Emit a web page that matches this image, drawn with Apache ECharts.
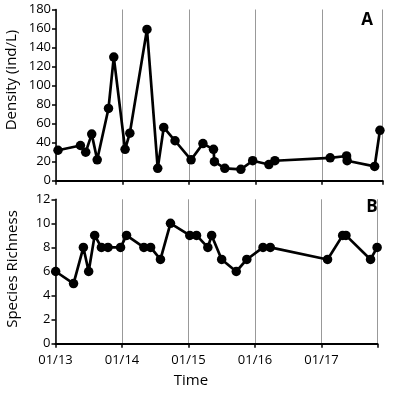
<!DOCTYPE html>
<html><head><meta charset="utf-8">
<script src="https://cdn.jsdelivr.net/npm/echarts@6/dist/echarts.min.js"></script>
<style>html,body{margin:0;padding:0;background:#fff}#c{width:394px;height:396px}</style>
</head><body><div id="c"></div>
<script>
// Panel A: density (ind/L)
var densityDates = ['2013-01-12','2013-05-15','2013-06-13','2013-07-16','2013-08-15','2013-10-16','2013-11-14',
  '2014-01-15','2014-02-10','2014-05-15','2014-07-13','2014-08-15','2014-10-16',
  '2015-01-12','2015-03-18','2015-05-15','2015-05-20','2015-07-16','2015-10-12','2015-12-16',
  '2016-03-14','2016-04-16','2017-02-14','2017-05-15','2017-05-18','2017-10-16','2017-11-14'];
var densityValues = [32,37,30,49,22,76,130,33,50,159,13,56,42,22,39,33,20,13,12,21,17,21,24,26,21,15,53];
// Panel B: species richness
var richnessDates = ['2013-01-02','2013-04-10','2013-06-03','2013-07-02','2013-08-04','2013-09-10','2013-10-16',
  '2013-12-24','2014-01-26','2014-05-01','2014-06-07','2014-07-31','2014-09-24',
  '2015-01-08','2015-02-14','2015-04-17','2015-05-08','2015-07-02','2015-09-20','2015-11-17',
  '2016-02-14','2016-03-25','2017-02-03','2017-04-27','2017-05-15','2017-09-27','2017-11-02'];
var richnessValues = [6,5,8,6,9,8,8,8,9,8,8,7,10,9,9,8,9,7,6,7,8,8,7,9,9,7,8];
var yearTicks = [2013,2014,2015,2016,2017];

function fy(s){
  var d = new Date(s + 'T00:00:00Z');
  var y = d.getUTCFullYear();
  var start = Date.UTC(y,0,1), end = Date.UTC(y+1,0,1);
  return y + (d.getTime()-start)/(end-start);
}
function pairs(dates, vals){ return dates.map(function(d,i){return [fy(d), vals[i]];}); }

var FONT = 'Open Sans';
var chart = echarts.init(document.getElementById('c'), null, {renderer:'canvas'});
function xAxis(idx, max, showLabel){
  return {
    type:'value', gridIndex:idx, min:2013, max:max, interval:1,
    axisLine:{show:true, lineStyle:{color:'#000', width:2}},
    axisTick:{show:true, length:4, lineStyle:{color:'#000', width:1.5}},
    axisLabel:{show:showLabel, color:'#000', fontFamily:FONT, fontSize:13, margin:10,
      formatter:function(v){ return yearTicks.indexOf(v)>=0 ? '01/' + String(v).slice(2) : ''; }},
    splitLine:{show:true, lineStyle:{color:'#999', width:1}}
  };
}
function yAxis(idx, max, interval){
  return {
    type:'value', gridIndex:idx, min:0, max:max, interval:interval,
    axisLine:{show:true, lineStyle:{color:'#000', width:1.5}},
    axisTick:{show:true, length:4, lineStyle:{color:'#000', width:1.5}},
    axisLabel:{color:'#000', fontFamily:FONT, fontSize:13, margin:5},
    splitLine:{show:false}
  };
}
var lineStyle = {color:'#000', width:2.7};
chart.setOption({
  animation:false,
  grid:[
    {left:56, top:9.5, right:11.3, bottom:215.3},
    {left:55.5, top:199.3, right:16.6, bottom:52.3}
  ],
  xAxis:[xAxis(0, 2017.91, false), xAxis(1, 2017.84, true)],
  yAxis:[yAxis(0, 180, 20), yAxis(1, 12, 2)],
  series:[
    {type:'line', xAxisIndex:0, yAxisIndex:0, data:pairs(densityDates, densityValues),
      symbol:'circle', symbolSize:9.5, showAllSymbol:true, lineStyle:lineStyle, itemStyle:{color:'#000'}},
    {type:'line', xAxisIndex:1, yAxisIndex:1, data:pairs(richnessDates, richnessValues),
      symbol:'circle', symbolSize:9.5, showAllSymbol:true, lineStyle:lineStyle, itemStyle:{color:'#000'}}
  ],
  graphic:[
    {type:'text', x:12, y:80, rotation:Math.PI/2, style:{text:'Density (ind/L)', fill:'#000', font:'15px "Open Sans"', align:'center', verticalAlign:'middle'}},
    {type:'text', x:13, y:269, rotation:Math.PI/2, style:{text:'Species Richness', fill:'#000', font:'15px "Open Sans"', align:'center', verticalAlign:'middle'}},
    {type:'text', x:191, y:381, style:{text:'Time', fill:'#000', font:'15px "Open Sans"', align:'center', verticalAlign:'middle'}},
    {type:'text', x:367, y:20, style:{text:'A', fill:'#000', font:'bold 17px "Open Sans"', align:'center', verticalAlign:'middle'}},
    {type:'text', x:372, y:207, style:{text:'B', fill:'#000', font:'bold 17px "Open Sans"', align:'center', verticalAlign:'middle'}}
  ]
});
</script></body></html>
